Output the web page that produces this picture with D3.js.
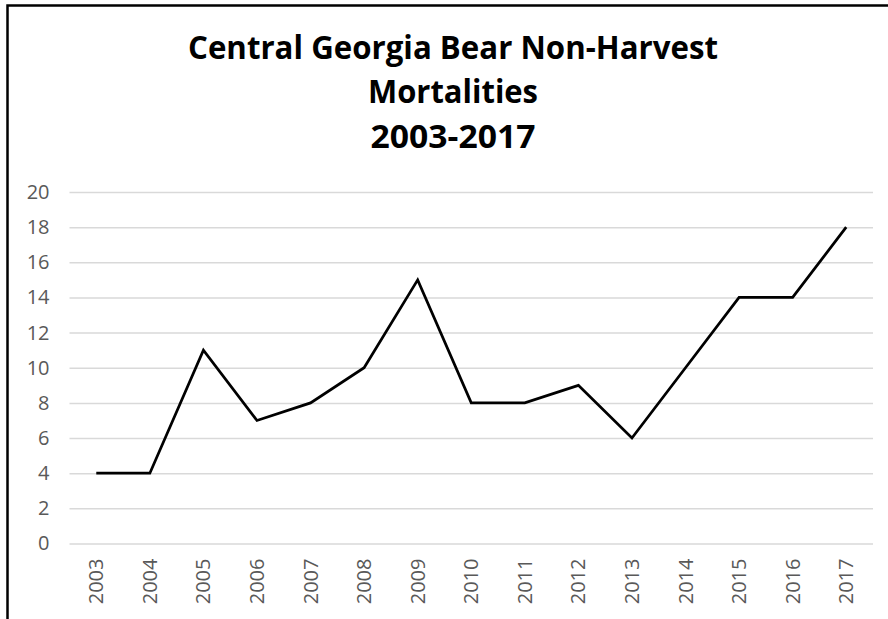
<!DOCTYPE html>
<html>
<head>
<meta charset="utf-8">
<script src="https://cdn.jsdelivr.net/npm/d3@7"></script>
<style>
  html, body { margin: 0; padding: 0; background: #fff; }
  svg { display: block; }
</style>
</head>
<body>
<svg id="chart" width="888" height="619"></svg>
<script>
const titleLines = ["Central Georgia Bear Non-Harvest", "Mortalities", "2003-2017"];
const years = ["2003","2004","2005","2006","2007","2008","2009","2010","2011","2012","2013","2014","2015","2016","2017"];
const mortalities = [4, 4, 11, 7, 8, 10, 15, 8, 8, 9, 6, 10, 14, 14, 18];
const yTicks = [0, 2, 4, 6, 8, 10, 12, 14, 16, 18, 20];

const svg = d3.select("#chart");
const font = "'Open Sans', 'Liberation Sans', sans-serif";

// outer border (extends past right/bottom edges like the cropped reference)
svg.append("rect")
  .attr("x", 7.5).attr("y", 5.5)
  .attr("width", 1000).attr("height", 1000)
  .attr("fill", "none").attr("stroke", "#000").attr("stroke-width", 2.5);

const plot = { left: 69.5, right: 873, top: 192, bottom: 543.5 };

const x = d3.scaleBand().domain(years).range([plot.left, plot.right]);
const y = d3.scaleLinear().domain([0, 20]).range([plot.bottom, plot.top]);

// title
const titleWidths = [530, 170, 165];
const titleBase = [59, 103, 148];
titleLines.forEach((t, i) => {
  svg.append("text")
    .attr("x", 453).attr("y", titleBase[i])
    .attr("text-anchor", "middle")
    .attr("font-family", font)
    .attr("font-weight", "bold")
    .attr("font-size", 32)
    .attr("fill", "#000")
    .attr("textLength", titleWidths[i])
    .attr("lengthAdjust", "spacingAndGlyphs")
    .text(t);
});

// gridlines + y labels via axis
const yAxis = d3.axisLeft(y).tickValues(yTicks).tickSize(-(plot.right - plot.left)).tickPadding(20).tickFormat(d3.format("d"));
const gy = svg.append("g").attr("transform", `translate(${plot.left},0)`).call(yAxis);
gy.select(".domain").remove();
gy.selectAll(".tick line").attr("stroke", "#d9d9d9").attr("stroke-width", 1.5);
gy.selectAll(".tick text")
  .attr("font-family", font).attr("font-size", 20).attr("fill", "#595959");

// x labels via axis
const xAxis = d3.axisBottom(x).tickSize(0).tickPadding(0);
const gx = svg.append("g").attr("transform", `translate(0,${plot.bottom})`).call(xAxis);
gx.select(".domain").remove();
gx.selectAll(".tick text")
  .attr("font-family", font).attr("font-size", 20).attr("fill", "#595959")
  .attr("transform", "rotate(-90)")
  .attr("text-anchor", "end")
  .attr("x", -15).attr("y", 0).attr("dy", "0.35em");

// line
const line = d3.line()
  .x((d, i) => x(years[i]) + x.bandwidth() / 2)
  .y(d => y(d));
svg.append("path")
  .datum(mortalities)
  .attr("d", line)
  .attr("fill", "none")
  .attr("stroke", "#000")
  .attr("stroke-width", 2.75)
  .attr("stroke-linejoin", "miter");
</script>
</body>
</html>
